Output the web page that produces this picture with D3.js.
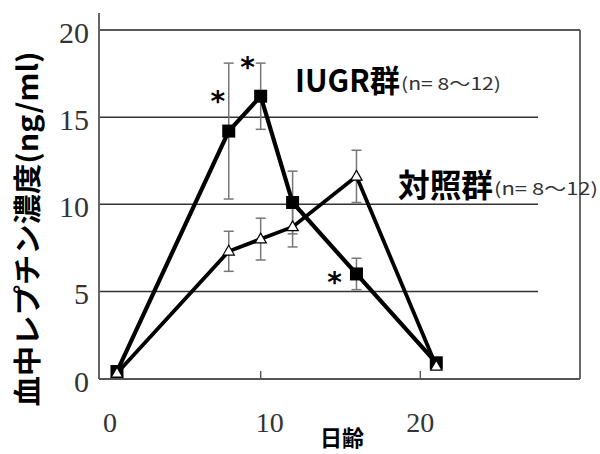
<!DOCTYPE html>
<html><head><meta charset="utf-8">
<script src="https://cdn.jsdelivr.net/npm/d3@7/dist/d3.min.js"></script>
<style>html,body{margin:0;padding:0;background:#fff;}svg{display:block;}
.serif{font-family:'Liberation Serif','Times New Roman','DejaVu Serif',serif;}</style>
</head><body>
<svg id="c" width="600" height="454"></svg>
<script>
// ---- data ----
const days = [1, 8, 10, 12, 16, 21];
const iugrMean = [0.4, 14.2, 16.2, 10.1, 6.0, 0.9];
const iugrSD   = [0, 3.9, 1.9, 1.8, 0.9, 0];
const ctrlMean = [0.3, 7.3, 8.0, 8.7, 11.6, 0.7];
const ctrlSD   = [0, 1.15, 1.2, 1.15, 1.5, 0];
const sigDays  = [8, 10, 16];
const xTicks = [0, 10, 20];
const yTicks = [0, 5, 10, 15, 20];
const yTitle = "血中レプチン濃度(ng/ml)";
const xTitle = "日齢";
const iugrLabel = "IUGR群";
const ctrlLabel = "対照群";
const nLabel = "(n= 8〜12)";

const svg = d3.select("#c");
const x = d3.scaleLinear().domain([0, 30]).range([101, 580]);
const y = d3.scaleLinear().domain([0, 20]).range([378.5, 30]);
const L = 99, R = 580, T = 30, B = 379;

// gridlines (5,10,15)
svg.append("g").selectAll("line").data(yTicks.filter(d => d > 0 && d < 20)).join("line")
  .attr("x1", L).attr("x2", 538).attr("y1", d => y(d)).attr("y2", d => y(d))
  .attr("stroke", "#333").attr("stroke-width", 1.5);
// frame: top & right
svg.append("line").attr("x1", L).attr("x2", R).attr("y1", y(20)).attr("y2", y(20)).attr("stroke", "#222").attr("stroke-width", 1.5);
svg.append("line").attr("x1", R).attr("x2", R).attr("y1", y(20)).attr("y2", B).attr("stroke", "#444").attr("stroke-width", 1.6);
// left axis
svg.append("line").attr("x1", L).attr("x2", L).attr("y1", 13).attr("y2", B).attr("stroke", "#666").attr("stroke-width", 2);
// bottom axis
svg.append("line").attr("x1", L).attr("x2", R).attr("y1", B).attr("y2", B).attr("stroke", "#555").attr("stroke-width", 1.8);
// x ticks (inward)
svg.append("g").selectAll("line").data(xTicks.filter(d => d > 0)).join("line")
  .attr("x1", d => x(d)).attr("x2", d => x(d)).attr("y1", B).attr("y2", B - 8)
  .attr("stroke", "#555").attr("stroke-width", 1.4);

// tick labels
svg.append("g").selectAll("text").data(yTicks).join("text")
  .attr("class", "serif")
  .attr("x", 89).attr("y", d => y(d) + 13)
  .attr("text-anchor", "end").attr("font-size", 30)
  .attr("fill", "#333").text(d => d);
svg.append("g").selectAll("text").data(xTicks).join("text")
  .attr("class", "serif")
  .attr("x", d => x(d) + (d === 20 ? 0 : 9)).attr("y", 432)
  .attr("text-anchor", "middle").attr("font-size", 28)
  .attr("fill", "#333").text(d => d);

// titles
svg.append("text").attr("transform", "translate(38,229) rotate(-90)")
  .attr("text-anchor", "middle").attr("font-family", "Noto Sans CJK JP, sans-serif").attr("font-weight", "bold")
  .attr("font-size", 28).attr("textLength", 355).attr("lengthAdjust", "spacingAndGlyphs")
  .attr("fill", "#000").text(yTitle);
svg.append("text").attr("x", 342).attr("y", 446)
  .attr("text-anchor", "middle").attr("font-family", "Noto Sans CJK JP, sans-serif").attr("font-weight", "bold")
  .attr("font-size", 22).attr("fill", "#000").text(xTitle);

// error bars
function errBars(mean, sd) {
  const g = svg.append("g").attr("stroke", "#777").attr("stroke-width", 1.5);
  days.forEach((d, i) => {
    if (sd[i] <= 0) return;
    const cx = x(d), y1 = y(mean[i] + sd[i]), y2 = y(mean[i] - sd[i]);
    g.append("line").attr("x1", cx).attr("x2", cx).attr("y1", y1).attr("y2", y2);
    g.append("line").attr("x1", cx - 5).attr("x2", cx + 5).attr("y1", y1).attr("y2", y1);
    g.append("line").attr("x1", cx - 5).attr("x2", cx + 5).attr("y1", y2).attr("y2", y2);
  });
}
errBars(iugrMean, iugrSD);
errBars(ctrlMean, ctrlSD);

// lines
const line = d3.line().x(d => x(d[0])).y(d => y(d[1]));
svg.append("path").datum(days.map((d, i) => [d, ctrlMean[i]])).attr("d", line)
  .attr("fill", "none").attr("stroke", "#000").attr("stroke-width", 3.8).attr("stroke-linejoin", "miter");
svg.append("path").datum(days.map((d, i) => [d, iugrMean[i]])).attr("d", line)
  .attr("fill", "none").attr("stroke", "#000").attr("stroke-width", 4.2).attr("stroke-linejoin", "miter");

// markers
svg.append("g").selectAll("rect").data(days.map((d, i) => [d, iugrMean[i]])).join("rect")
  .attr("x", d => x(d[0]) - 6.5).attr("y", d => y(d[1]) - 6.5).attr("width", 13).attr("height", 13)
  .attr("fill", "#000");
const tri = d3.symbol().type(d3.symbolTriangle).size(55);
svg.append("g").selectAll("path").data(days.map((d, i) => [d, ctrlMean[i]])).join("path")
  .attr("d", tri).attr("transform", d => `translate(${x(d[0])},${y(d[1]) + 0.5})`)
  .attr("fill", "#fff").attr("stroke", "#000").attr("stroke-width", 1.2);

// asterisks
const astOffsets = {8: [-11, -35], 10: [-13, -34], 16: [-22, 3]};
svg.append("g").selectAll("text").data(sigDays).join("text")
  .attr("x", d => x(d) + astOffsets[d][0])
  .attr("y", d => y(iugrMean[days.indexOf(d)]) + astOffsets[d][1] + 15)
  .attr("text-anchor", "middle").attr("font-family", "DejaVu Sans, sans-serif").attr("font-weight", "bold")
  .attr("font-size", 28).attr("fill", "#000").text("*");

// group labels
svg.append("text").attr("x", 295).attr("y", 92)
  .attr("font-family", "Noto Sans CJK JP, sans-serif").attr("font-weight", "bold").attr("font-size", 31)
  .attr("textLength", 105).attr("lengthAdjust", "spacingAndGlyphs").attr("fill", "#000").text(iugrLabel);
svg.append("text").attr("x", 401).attr("y", 90)
  .attr("font-family", "Noto Sans CJK JP, sans-serif").attr("font-size", 17)
  .attr("textLength", 100).attr("lengthAdjust", "spacingAndGlyphs").attr("fill", "#333").text(nLabel);
svg.append("text").attr("x", 398).attr("y", 197)
  .attr("font-family", "Noto Sans CJK JP, sans-serif").attr("font-weight", "bold").attr("font-size", 32)
  .attr("textLength", 95).attr("lengthAdjust", "spacingAndGlyphs").attr("fill", "#000").text(ctrlLabel);
svg.append("text").attr("x", 494).attr("y", 195)
  .attr("font-family", "Noto Sans CJK JP, sans-serif").attr("font-size", 17)
  .attr("textLength", 104).attr("lengthAdjust", "spacingAndGlyphs").attr("fill", "#333").text(nLabel);
</script>
</body></html>
